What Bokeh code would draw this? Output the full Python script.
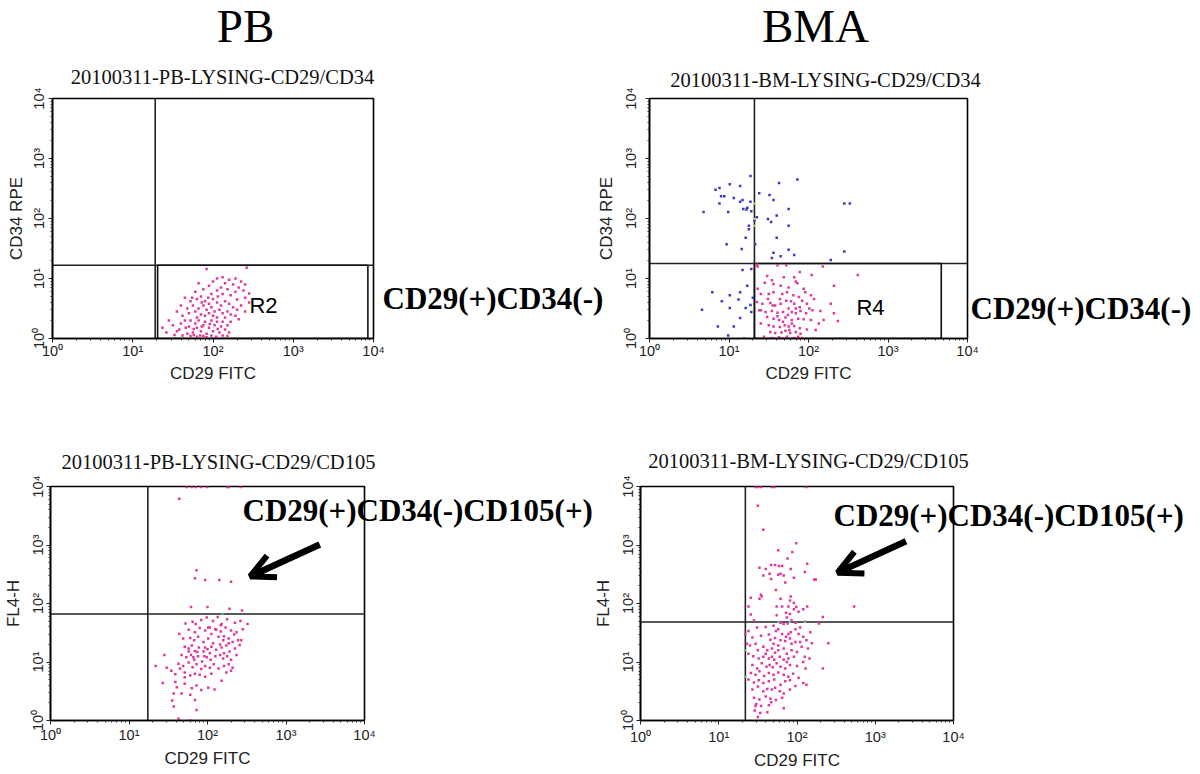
import numpy as np
from bokeh.plotting import figure
from bokeh.models import Range1d, FixedTicker, Label, Arrow, OpenHead
from bokeh.layouts import row, column
from bokeh.embed import file_html
from bokeh.resources import INLINE

# ---------------- data (all event values in log10 decades) ----------------
TICK_VALUES = [1, 10, 100, 1000, 10000]
TICK_LABELS = ["10\u2070", "10\u00b9", "10\u00b2", "10\u00b3", "10\u2074"]

PANEL_TITLES = ["20100311-PB-LYSING-CD29/CD34", "20100311-BM-LYSING-CD29/CD34",
                "20100311-PB-LYSING-CD29/CD105", "20100311-BM-LYSING-CD29/CD105"]
COLUMN_TITLES = ["PB", "BMA"]
X_LABEL = "CD29 FITC"
Y_LABELS = ["CD34 RPE", "CD34 RPE", "FL4-H", "FL4-H"]
POP_LABELS = ["CD29(+)CD34(-)", "CD29(+)CD34(-)", "CD29(+)CD34(-)CD105(+)", "CD29(+)CD34(-)CD105(+)"]
REGION_NAMES = ["R2", "R4"]

# quadrant markers (log10 x, log10 y)
PB_CD34_QUAD = (1.28, 1.22)
BM_CD34_QUAD = (1.32, 1.25)
PB_CD105_QUAD = (1.24, 1.82)
BM_CD105_QUAD = (1.34, 1.685)
# regions (left, right, bottom, top) in log10
R2_REGION = (1.31, 3.93, 0.0, 1.22)
R4_REGION = (1.32, 3.67, 0.0, 1.25)

PB_CD34_EVENTS = [
    (1.92,1.16),(2.42,1.18),(2.05,1.00),(2.12,1.02),(2.20,0.98),(2.28,1.00),(2.35,0.95),(2.40,0.90),(2.00,0.95),
    (2.15,0.92),(2.25,0.90),(2.32,0.85),(2.10,0.85),(2.18,0.82),(2.38,0.80),(2.45,0.75),(1.95,0.88),(2.05,0.80),
    (2.28,0.78),(2.22,0.72),(2.40,0.68),(1.88,0.82),(1.98,0.74),(2.12,0.74),(2.30,0.65),(2.45,0.60),(1.82,0.92),
    (1.78,0.78),(1.65,0.68),(1.72,0.62),(1.80,0.66),(1.85,0.70),(1.90,0.62),(1.95,0.58),(2.00,0.66),(2.05,0.60),
    (2.10,0.55),(2.15,0.62),(2.20,0.58),(2.25,0.52),(2.30,0.48),(2.35,0.55),(2.40,0.45),(1.60,0.55),(1.68,0.50),
    (1.75,0.55),(1.82,0.50),(1.88,0.55),(1.92,0.48),(1.98,0.52),(2.02,0.45),(2.08,0.48),(2.12,0.42),(2.18,0.45),
    (2.22,0.40),(2.28,0.38),(1.70,0.42),(1.78,0.45),(1.85,0.40),(1.90,0.38),(1.95,0.42),(2.00,0.38),(2.05,0.35),
    (2.15,0.35),(2.32,0.32),(1.55,0.45),(1.62,0.38),(1.80,0.35),(1.86,0.60),(1.74,0.68),(1.94,0.68),(2.06,0.70),
    (1.37,0.18),(1.45,0.30),(1.50,0.22),(1.55,0.12),(1.60,0.25),(1.65,0.30),(1.70,0.20),(1.72,0.30),(1.75,0.10),
    (1.78,0.25),(1.80,0.18),(1.82,0.30),(1.85,0.12),(1.88,0.22),(1.90,0.28),(1.92,0.08),(1.95,0.18),(1.98,0.30),
    (2.00,0.12),(2.02,0.22),(2.05,0.28),(2.08,0.10),(2.10,0.20),(2.12,0.28),(2.15,0.15),(2.18,0.22),(2.20,0.10),
    (2.22,0.28),(1.62,0.05),(1.68,0.08),(1.72,0.04),(1.76,0.06),(1.80,0.03),(1.84,0.05),(1.88,0.04),(1.92,0.02),
    (1.98,0.05),(2.04,0.03),(2.12,0.05),(2.18,0.04),(1.58,0.15),(1.52,0.06),(1.42,0.10),(1.76,0.16),(1.86,0.20),
    (1.96,0.24),(2.06,0.16),(1.66,0.18),
]

BM_CD34_PINK = [
    (1.35,1.23),(1.36,1.20),(1.61,1.22),(1.72,1.22),(1.89,1.11),(2.04,1.06),(2.18,1.20),(2.62,1.06),(2.32,0.88),
    (1.48,1.04),(1.54,0.97),(1.69,1.02),(1.82,1.02),(1.84,0.95),(1.45,0.93),(1.56,0.91),(1.65,0.88),(1.75,0.85),
    (1.86,0.92),(1.94,0.83),(1.36,0.83),(1.40,0.74),(1.50,0.74),(1.56,0.77),(1.67,0.74),(1.73,0.77),(1.81,0.72),
    (1.88,0.69),(1.96,0.77),(2.03,0.72),(1.35,0.61),(1.42,0.58),(1.52,0.59),(1.58,0.55),(1.65,0.58),(1.72,0.63),
    (1.78,0.62),(1.82,0.58),(1.89,0.52),(1.98,0.58),(2.07,0.66),(1.40,0.47),(1.46,0.44),(1.54,0.46),(1.61,0.43),
    (1.68,0.44),(1.75,0.50),(1.79,0.44),(1.84,0.42),(1.90,0.46),(1.97,0.42),(2.15,0.46),(1.48,0.36),(1.56,0.33),
    (1.63,0.31),(1.71,0.35),(1.79,0.31),(1.87,0.33),(1.94,0.32),(2.03,0.31),(2.19,0.31),(2.37,0.29),(1.50,0.22),
    (1.56,0.20),(1.64,0.19),(1.70,0.22),(1.75,0.20),(1.82,0.21),(1.89,0.17),(1.98,0.15),(2.13,0.25),(1.52,0.11),
    (1.58,0.09),(1.66,0.10),(1.71,0.13),(1.77,0.09),(1.84,0.11),(1.90,0.08),(1.44,0.03),(1.54,0.01),(1.63,0.02),
    (1.73,0.03),(1.82,0.01),(1.87,0.03),(1.89,0.00),(1.92,0.01),(1.79,0.25),(1.68,0.28),(1.61,0.37),(1.74,0.39),
    (1.84,0.50),(1.92,0.63),(2.01,0.50),(1.49,0.66),(1.64,0.66),(1.55,0.55),(1.76,0.14),(1.67,0.00),(2.32,0.42),
    (2.05,0.47),(2.09,0.14),(2.28,0.58),(1.38,0.47),(1.40,0.25),
]

BM_CD34_BLUE = [
    (1.27,2.71),(0.88,2.51),(0.83,2.48),(1.01,2.57),(1.14,2.54),(0.90,2.37),(0.94,2.37),(1.06,2.34),(0.88,2.25),
    (1.14,2.28),(1.17,2.31),(1.27,2.28),(0.68,2.11),(0.99,2.11),(1.18,2.16),(1.23,2.18),(1.22,2.15),(1.28,2.12),
    (1.63,2.59),(1.86,2.65),(1.38,2.42),(1.51,2.39),(1.56,2.31),(1.75,2.16),(1.49,1.99),(1.53,1.94),(1.60,2.05),
    (1.35,2.02),(1.32,1.97),(1.25,1.88),(1.25,1.82),(1.75,1.88),(1.21,1.68),(0.97,1.57),(1.16,1.49),(1.33,1.57),
    (1.60,1.68),(1.56,1.43),(1.54,1.34),(1.65,1.37),(1.75,1.48),(1.82,1.39),(2.28,1.31),(2.45,1.45),(2.45,2.25),
    (2.52,2.25),(1.28,1.16),(1.17,1.14),(1.23,0.88),(1.14,0.77),(0.79,0.77),(1.01,0.72),(0.91,0.62),(1.12,0.65),
    (1.30,0.68),(0.66,0.48),(1.01,0.51),(1.21,0.51),(1.27,0.56),(1.28,0.44),(1.14,0.34),(0.86,0.20),(1.06,0.20),
    (0.99,0.05),(1.19,0.00),
]
BM_CD34_YELLOW = [(1.32,2.25),(1.32,1.99),(1.32,1.88)]

PB_CD105_PINK = [
    (1.73,3.99),(1.80,3.99),(1.85,3.99),(1.92,3.99),(2.00,3.99),(2.25,3.99),(2.27,3.99),(2.42,3.99),
    (1.64,3.79),(1.86,2.57),(1.84,2.43),(1.97,2.40),(2.15,2.40),(2.30,2.37),(1.79,1.94),(2.00,1.94),(2.28,1.91),
    (2.44,1.88),
    (1.72,1.66),(1.81,1.69),(1.85,1.65),(1.92,1.72),(1.99,1.76),(2.07,1.70),(2.13,1.77),(2.18,1.65),(2.25,1.73),
    (2.35,1.67),(2.42,1.70),(2.51,1.65),(1.64,1.48),(1.76,1.55),(1.84,1.51),(1.90,1.58),(1.97,1.54),(2.03,1.59),
    (2.10,1.56),(2.17,1.52),(2.23,1.59),(2.30,1.54),(2.37,1.51),(2.45,1.56),(1.69,1.40),(1.78,1.41),(1.83,1.37),
    (1.88,1.43),(1.95,1.34),(2.01,1.40),(2.07,1.32),(2.14,1.43),(2.20,1.37),(2.27,1.40),(2.34,1.47),(2.39,1.37),
    (1.71,1.26),(1.76,1.23),(1.80,1.28),(1.84,1.19),(1.89,1.25),(1.95,1.18),(2.00,1.22),(2.05,1.26),(2.11,1.21),
    (2.18,1.25),(2.24,1.28),(2.28,1.18),(2.35,1.23),(2.41,1.29),(1.67,1.12),(1.73,1.08),(1.79,1.12),(1.83,1.04),
    (1.88,1.10),(1.93,1.01),(1.99,1.08),(2.04,1.04),(2.10,1.10),(2.16,1.12),(2.20,1.06),(2.25,1.10),(2.30,1.04),
    (2.37,1.12),(1.63,0.97),(1.69,0.93),(1.76,0.99),(1.81,0.91),(1.86,0.96),(1.92,0.88),(1.97,0.93),(2.03,0.90),
    (2.08,0.96),(2.14,0.89),(2.21,0.93),(2.27,0.96),(2.32,0.90),(1.45,1.12),(1.34,0.93),(1.48,0.90),(1.54,0.85),
    (1.59,0.79),(1.65,0.89),(1.71,0.82),(1.78,0.77),(1.84,0.80),(1.90,0.78),(1.97,0.75),(2.05,0.80),(2.24,0.82),
    (2.30,0.85),(1.43,0.64),(1.59,0.66),(1.61,0.57),(1.71,0.63),(1.80,0.55),(1.86,0.60),(1.92,0.52),(2.01,0.56),
    (2.09,0.53),(2.18,0.68),(1.57,0.46),(1.67,0.46),(1.78,0.44),(1.84,0.35),(1.55,0.34),(1.57,0.24),(1.86,0.18),
    (1.63,0.03),(1.78,0.00),(2.01,1.59),(2.05,1.48),(1.97,1.25),(2.16,1.30),(2.21,1.15),(1.87,1.17),(1.82,1.08),
    (1.76,1.18),(2.32,1.34),(2.43,1.37),(2.11,1.55),(2.17,1.63),(2.21,1.44),(2.27,1.32),(1.96,1.10),(2.03,1.15),
    (1.71,0.74),
]
PB_CD105_GREEN = [(2.19,1.82)]

BM_CD105_PINK = [
    (1.47,3.99),(1.50,3.99),(1.54,3.99),(1.68,3.99),(1.71,3.99),(2.12,3.99),
    (1.50,3.67),(1.57,3.26),(1.99,3.03),(1.76,2.91),(1.94,2.88),(1.88,2.77),(1.52,2.61),(1.60,2.59),(1.67,2.66),
    (1.72,2.66),(1.77,2.64),(1.81,2.64),(1.92,2.59),(2.13,2.68),(1.57,2.48),(1.65,2.51),(1.67,2.42),(1.76,2.49),
    (1.79,2.51),(1.83,2.48),(1.96,2.44),(2.10,2.54),(2.22,2.41),(2.24,2.41),(1.85,2.36),(1.73,2.23),(1.54,2.15),
    (1.52,2.08),(1.41,2.10),(1.55,2.12),(1.79,2.08),(1.92,2.12),(1.91,2.05),(1.96,2.01),(1.74,1.95),(1.81,1.95),
    (1.89,1.95),(1.99,1.94),(2.13,1.95),(1.38,1.95),(2.73,1.95),(1.86,1.84),(1.91,1.82),(1.96,1.90),(2.02,1.86),
    (2.08,1.90),(1.41,1.81),(1.74,1.80),(1.87,1.76),(1.93,1.71),(2.33,1.77),(1.45,1.71),(2.28,1.66),(2.10,1.69),
    (1.98,1.67),(1.79,1.67),(1.83,1.65),(1.88,1.66),
    (1.38,1.53),(1.49,1.59),(1.60,1.60),(1.70,1.62),(1.73,1.53),(1.76,1.56),(1.81,1.48),(1.86,1.43),(1.89,1.48),
    (1.92,1.51),(1.98,1.56),(2.02,1.48),(2.08,1.43),(2.17,1.51),(1.43,1.42),(1.54,1.45),(1.64,1.47),(1.66,1.38),
    (1.72,1.41),(1.79,1.37),(1.85,1.36),(1.91,1.40),(1.98,1.34),(2.04,1.34),(2.12,1.37),(2.19,1.32),(2.40,1.32),
    (1.40,1.28),(1.47,1.31),(1.57,1.26),(1.62,1.20),(1.68,1.23),(1.72,1.16),(1.76,1.20),(1.83,1.23),(1.87,1.14),
    (1.93,1.20),(2.00,1.17),(2.06,1.26),(2.14,1.23),(1.38,1.14),(1.44,1.10),(1.51,1.06),(1.57,1.09),(1.64,1.06),
    (1.68,1.09),(1.71,1.04),(1.78,1.09),(1.83,1.04),(1.89,1.06),(1.96,1.09),(2.10,1.09),(2.16,1.06),(1.43,0.95),
    (1.49,0.89),(1.55,0.98),(1.61,0.92),(1.65,0.95),(1.69,0.91),(1.74,0.98),(1.79,0.92),(1.85,0.89),(1.91,0.95),
    (2.00,0.93),(1.41,0.81),(1.47,0.78),(1.52,0.84),(1.58,0.76),(1.64,0.81),(1.70,0.78),(1.76,0.82),(1.83,0.78),
    (1.89,0.75),(1.95,0.80),(2.11,0.89),(2.33,0.89),(1.38,0.70),(1.45,0.65),(1.51,0.69),(1.57,0.64),(1.64,0.67),
    (1.71,0.70),(1.79,0.61),(1.85,0.67),(1.91,0.69),(2.02,0.73),(2.08,0.64),(2.12,0.61),(1.43,0.53),(1.50,0.58),
    (1.57,0.50),(1.62,0.54),(1.68,0.53),(1.72,0.56),(1.78,0.50),(1.83,0.46),(1.91,0.53),(1.98,0.59),(1.45,0.39),
    (1.52,0.36),(1.60,0.41),(1.66,0.37),(1.73,0.35),(1.81,0.39),(1.48,0.28),(1.54,0.25),(1.64,0.26),(1.67,0.31),
    (1.83,0.21),(1.46,0.17),(1.53,0.13),(1.62,0.14),(1.50,0.06),(1.47,0.25),(1.36,1.31),(1.34,1.48),(2.08,1.00),
    (2.04,1.59),(1.93,1.31),(1.76,1.28),(1.60,1.14),(1.70,1.31),(1.87,1.00),(1.50,1.20),
]
BM_CD105_GREEN = [(1.34,1.20),(1.34,0.75),(1.76,1.685),(1.91,1.685),(2.10,1.685)]

# ---------------- styling / layout ----------------
PINK = "#e0389e"
BLUE = "#3a3ac4"
YELLOW = "#e6dc5a"
GREEN = "#3fd58a"
SANS = "Liberation Sans"
SERIF = "Liberation Serif"
PAGE_W, PAGE_H = 1198, 772


def xy(events):
    a = np.array(events, dtype=float)
    return 10 ** a[:, 0], 10 ** a[:, 1]


def make_panel(canvas, frame, size, ylabel, xl_standoff, xa_standoff, yl_standoff, ya_standoff):
    cx0, cy0 = canvas
    fx0, fx1, fy0, fy1 = frame
    W, H = size
    p = figure(width=W, height=H, x_axis_type="log", y_axis_type="log",
               x_range=Range1d(1, 1e4), y_range=Range1d(1, 1e4),
               output_backend="svg", toolbar_location=None,
               min_border_left=fx0 - cx0, min_border_right=cx0 + W - fx1,
               min_border_top=fy0 - cy0, min_border_bottom=cy0 + H - fy1)
    p.background_fill_color = None
    p.border_fill_color = None
    p.outline_line_color = "black"
    p.outline_line_width = 1.6
    p.grid.visible = False
    minor = [m * 10 ** d for d in range(4) for m in range(2, 10)]
    overrides = {v: t for v, t in zip(TICK_VALUES, TICK_LABELS)}
    for ax in (p.xaxis[0], p.yaxis[0]):
        ax.ticker = FixedTicker(ticks=TICK_VALUES, minor_ticks=minor)
        ax.major_label_overrides = overrides
        ax.axis_line_color = "black"
        ax.axis_line_width = 1.6
        ax.major_tick_out = 4
        ax.major_tick_in = 0
        ax.minor_tick_out = 2
        ax.minor_tick_in = 0
        ax.major_tick_line_color = "#222"
        ax.minor_tick_line_color = "#333"
        ax.major_label_text_font = SANS
        ax.major_label_text_font_size = "14.5px"
        ax.major_label_text_color = "#222"
        ax.axis_label_text_font = SANS
        ax.axis_label_text_font_size = "17px"
        ax.axis_label_text_font_style = "normal"
        ax.axis_label_text_color = "#222"
    p.xaxis[0].axis_label = X_LABEL
    p.xaxis[0].major_label_standoff = xl_standoff
    p.xaxis[0].axis_label_standoff = xa_standoff
    p.yaxis[0].axis_label = ylabel
    p.yaxis[0].major_label_orientation = "vertical"
    p.yaxis[0].major_label_standoff = yl_standoff
    p.yaxis[0].axis_label_standoff = ya_standoff

    def to_data(X, Y):
        lx = (X - fx0) / (fx1 - fx0) * 4.0
        ly = (fy1 - Y) / (fy1 - fy0) * 4.0
        return 10 ** lx, 10 ** ly

    return p, to_data


def add_quadrants(p, quad):
    qx, qy = 10 ** quad[0], 10 ** quad[1]
    p.segment(x0=[qx, 1], y0=[1, qy], x1=[qx, 1e4], y1=[1e4, qy], line_color="#222", line_width=1.6)


def add_region(p, conv, reg, name, pos):
    p.quad(left=[10 ** reg[0]], right=[10 ** reg[1]], bottom=[10 ** reg[2]], top=[10 ** reg[3]],
           fill_color=None, line_color="#111", line_width=1.6)
    x, y = conv(*pos)
    p.add_layout(Label(x=x, y=y, text=name, text_font=SANS, text_font_size="22px",
                       text_align="center", text_baseline="middle", text_color="black"))


def add_events(p, events, color, size=2.5):
    x, y = xy(events)
    p.scatter(x=x, y=y, marker="square", size=size, fill_color=color, line_color=None)


def add_arrow(p, conv, tail, tip):
    xs, ys = conv(*tail)
    xe, ye = conv(*tip)
    p.add_layout(Arrow(end=OpenHead(size=24, line_width=6, line_color="black"),
                       x_start=xs, y_start=ys, x_end=xe, y_end=ye, line_width=6.5, line_color="black"))


# ---- top-left: PB CD29/CD34
tl, ctl = make_panel((0, 0), (52, 373, 93, 338), (590, 395), Y_LABELS[0], 0, 2, 2, 2)
add_quadrants(tl, PB_CD34_QUAD)
add_region(tl, ctl, R2_REGION, REGION_NAMES[0], (263, 304))
add_events(tl, PB_CD34_EVENTS, PINK)

# ---- top-right: BM CD29/CD34
tr, ctr = make_panel((590, 0), (649, 967, 98, 342), (608, 395), Y_LABELS[1], 0, 2, 7, 4)
add_quadrants(tr, BM_CD34_QUAD)
add_region(tr, ctr, R4_REGION, REGION_NAMES[1], (870, 310))
add_events(tr, BM_CD34_PINK, PINK)
add_events(tr, BM_CD34_BLUE, BLUE)
add_events(tr, BM_CD34_YELLOW, YELLOW, size=2.0)

# ---- bottom-left: PB CD29/CD105
bl, cbl = make_panel((0, 395), (48, 364, 486, 728), (590, 377), Y_LABELS[2], 2, 3, 1, 4)
add_quadrants(bl, PB_CD105_QUAD)
add_events(bl, PB_CD105_PINK, PINK)
add_events(bl, PB_CD105_GREEN, GREEN, size=2.0)
add_arrow(bl, cbl, (319, 546), (249, 579))

# ---- bottom-right: BM CD29/CD105
br, cbr = make_panel((590, 395), (637, 953, 486, 725), (608, 377), Y_LABELS[3], 4, 3, 1, 4)
add_quadrants(br, BM_CD105_QUAD)
add_events(br, BM_CD105_PINK, PINK)
add_events(br, BM_CD105_GREEN, GREEN, size=2.0)
add_arrow(br, cbr, (905, 542), (836, 574))

# ---- page-level text layer (headings, panel titles and population call-outs)
ov = figure(width=PAGE_W, height=PAGE_H, x_range=Range1d(0, PAGE_W), y_range=Range1d(PAGE_H, 0),
            output_backend="svg", toolbar_location=None, x_axis_location=None, y_axis_location=None,
            min_border=0, margin=(0, 0, -PAGE_H, 0))
ov.background_fill_color = None
ov.border_fill_color = None
ov.outline_line_color = None
ov.grid.visible = False
for txt, (X, Y) in zip(COLUMN_TITLES, [(245, 25), (815, 25)]):
    ov.add_layout(Label(x=X, y=Y, text=txt, text_font=SERIF, text_font_size="47px",
                        text_align="center", text_baseline="middle", text_color="black"))
for txt, (X, Y) in zip(PANEL_TITLES, [(222, 76), (825, 79), (218, 461), (808, 460)]):
    ov.add_layout(Label(x=X, y=Y, text=txt, text_font=SERIF, text_font_size="20.5px",
                        text_align="center", text_baseline="middle", text_color="#111"))
for txt, (X, Y) in zip(POP_LABELS, [(382, 298), (970, 308), (242, 510), (833, 515)]):
    ov.add_layout(Label(x=X, y=Y, text=txt, text_font=SERIF, text_font_size="31px",
                        text_font_style="bold", text_align="left", text_baseline="middle",
                        text_color="black"))

layout = column(ov, row(tl, tr), row(bl, br))
open("out.html", "w").write(file_html(layout, INLINE))
